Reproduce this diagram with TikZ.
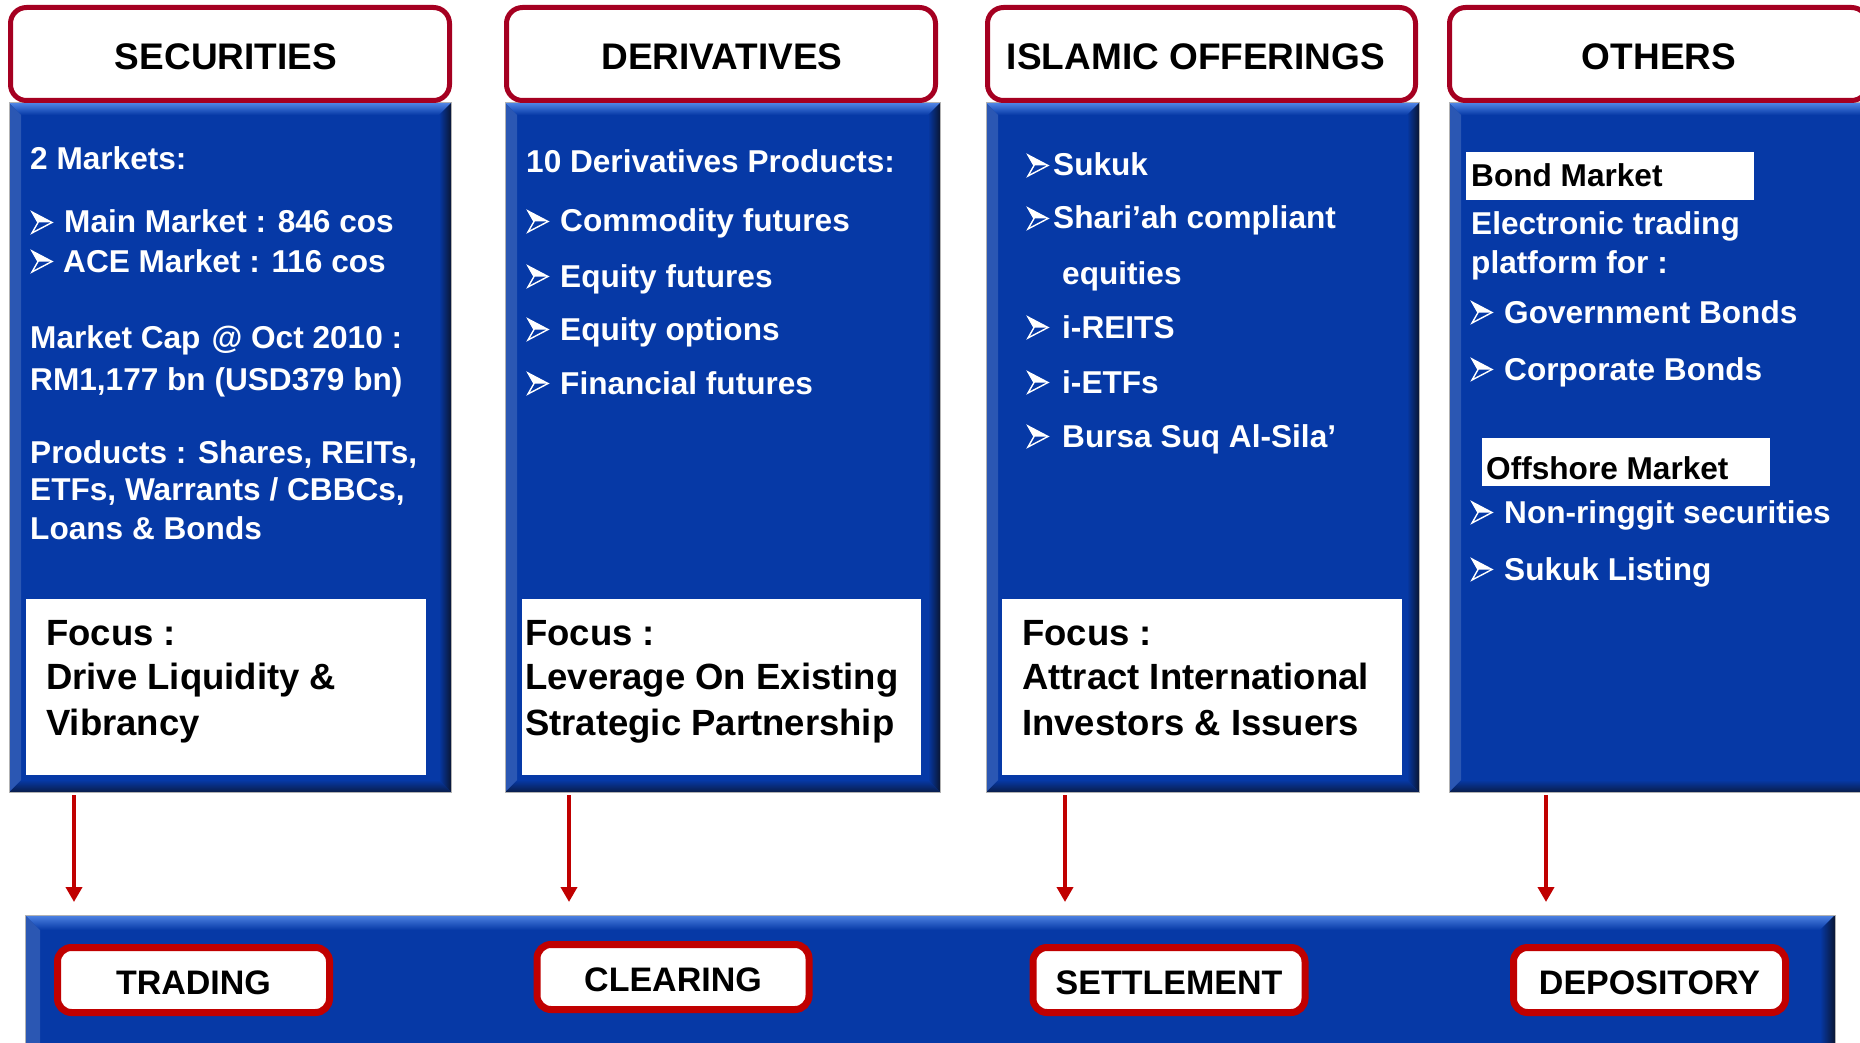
\documentclass[tikz,border=0pt]{standalone}
\usepackage{fontspec}
\setmainfont{Liberation Sans}
\usetikzlibrary{arrows.meta}
\definecolor{pblue}{HTML}{0639A6}
\definecolor{plight}{HTML}{4F84E4}
\definecolor{pdark}{HTML}{0A1634}
\definecolor{hred}{HTML}{A50021}
\definecolor{bred}{HTML}{C00000}
\tikzset{
 body/.style={anchor=base west, inner sep=0pt, text=white, font=\fontsize{31.6}{37}\selectfont\bfseries},
 btext/.style={anchor=base west, inner sep=0pt, text=black, font=\fontsize{31.6}{37}\selectfont\bfseries},
 focustxt/.style={anchor=base west, inner sep=0pt, text=black, font=\fontsize{36.5}{44}\selectfont\bfseries},
 head/.style={draw=hred, line width=5pt, fill=white, rounded corners=16pt, inner sep=0pt, minimum height=93pt},
 headtxt/.style={inner sep=0pt, text=black, font=\fontsize{37}{44}\selectfont\bfseries},
 lowerbox/.style={draw=bred, line width=7pt, fill=white, rounded corners=14pt, inner sep=0pt, minimum width=272pt, minimum height=65pt},
 lowertxt/.style={inner sep=0pt, text=black, font=\fontsize{34}{40}\selectfont\bfseries},
 wbox/.style={fill=white, draw=none, inner sep=0pt, anchor=north west},
 arr/.style={draw=bred, line width=4pt, -{Triangle[length=15pt,width=16pt]}},
 bulletpic/.pic={
   \fill[white] (0,-10.5) -- (20,0) -- (6,0) -- cycle;
   \draw[white, line width=1.4pt, line join=miter] (0,-10.5) -- (20,0) -- (0,10.5) -- (6,0) -- cycle;
 }
}
\newcommand\bevpanel[5]{%
 \fill[pblue] (#1,#2) rectangle (#3,#4);
 \shade[top color=plight, bottom color=pblue] (#1,#2) -- (#3,#2) -- ({#3-#5},{#2+#5}) -- ({#1+#5},{#2+#5}) -- cycle;
 \shade[left color=pblue, right color=pdark] (#3,#2) -- (#3,#4) -- ({#3-#5},{#4-#5}) -- ({#3-#5},{#2+#5}) -- cycle;
 \shade[top color=pblue, bottom color=pdark!80!pblue] (#1,#4) -- (#3,#4) -- ({#3-#5},{#4-#5}) -- ({#1+#5},{#4-#5}) -- cycle;
 \fill[pblue!85!white] (#1,#2) -- ({#1+#5},{#2+#5}) -- ({#1+#5},{#4-#5}) -- (#1,#4) -- cycle;
 \draw[gray!60, line width=1pt] (#1,#2) rectangle (#3,#4);
}
% bullet at (x, baseline)
\newcommand\bul[2]{\pic at (#1,{#2-10.5}) {bulletpic};}
\begin{document}
\begin{tikzpicture}[x=1pt,y=-1pt]
\useasboundingbox (0,0) rectangle (1860,1043);
\clip (0,0) rectangle (1860,1043);
\fill[white] (0,0) rectangle (1860,1043);

% panels
\bevpanel{9}{103}{451}{792}{12}
\bevpanel{505}{103}{940}{792}{12}
\bevpanel{986}{103}{1419}{792}{12}
\bevpanel{1449}{103}{1890}{792}{12}
\bevpanel{25}{915}{1835}{1065}{15}

% headers
\node[head, minimum width=439pt] (hsec) at (230,54) {};
\node[head, minimum width=429pt] (hder) at (721,54) {};
\node[head, minimum width=428pt] (hisl) at (1201.5,54) {};
\node[head, minimum width=418pt] (hoth) at (1658.5,54) {};
\node[headtxt] (hsect) at (226,56.5) {SECURITIES};
\node[headtxt] (hdert) at (722,56.5) {DERIVATIVES};
\node[headtxt] (hislt) at (1196,56.5) {ISLAMIC OFFERINGS};
\node[headtxt] (hotht) at (1659,56.5) {OTHERS};

% securities
\node[body] (s1) at (30,170) {2 Markets:};
\bul{32}{233}
\node[body] (s2) at (64,233) {Main Market : 846 cos};
\bul{32}{272}
\node[body] (s3) at (63,272) {ACE Market : 116 cos};
\node[body] (s4) at (30,348) {Market Cap\hspace{0.35em}@ Oct 2010 :};
\node[body] (s5) at (30,390) {RM1,177 bn (USD379 bn)};
\node[body] (s6) at (30,463) {Products : Shares, REITs,};
\node[body] (s7) at (30,500) {ETFs, Warrants / CBBCs,};
\node[body] (s8) at (30,539) {Loans \& Bonds};
\node[wbox, minimum width=400pt, minimum height=176pt] (sfb) at (26,599) {};
\node[focustxt] (sf1) at (46,645) {Focus :};
\node[focustxt] (sf2) at (46,689) {Drive Liquidity \&};
\node[focustxt] (sf3) at (46,735) {Vibrancy};

% derivatives
\node[body] (d1) at (526,173) {10 Derivatives Products:};
\bul{528}{232}
\node[body] (d2) at (560,232) {Commodity futures};
\bul{528}{287}
\node[body] (d3) at (560,287) {Equity futures};
\bul{528}{340}
\node[body] (d4) at (560,340) {Equity options};
\bul{528}{394}
\node[body] (d5) at (560,394) {Financial futures};
\node[wbox, minimum width=399pt, minimum height=176pt] (dfb) at (522,599) {};
\node[focustxt] (df1) at (525,645) {Focus :};
\node[focustxt] (df2) at (525,689) {Leverage On Existing};
\node[focustxt] (df3) at (525,735) {Strategic Partnership};

% islamic
\bul{1028}{176}
\node[body] (i1) at (1053,176) {Sukuk};
\bul{1028}{229}
\node[body] (i2) at (1053,229) {Shari’ah compliant};
\node[body] (i2c) at (1062,284) {equities};
\bul{1028}{338}
\node[body] (i3) at (1062,338) {i-REITS};
\bul{1028}{393}
\node[body] (i4) at (1062,393) {i-ETFs};
\bul{1028}{447}
\node[body] (i5) at (1062,447) {Bursa Suq Al-Sila’};
\node[wbox, minimum width=400pt, minimum height=176pt] (ifb) at (1002,599) {};
\node[focustxt] (if1) at (1022,645) {Focus :};
\node[focustxt] (if2) at (1022,689) {Attract International};
\node[focustxt] (if3) at (1022,735) {Investors \& Issuers};

% others
\node[wbox, minimum width=288pt, minimum height=48pt] (obb) at (1466,152) {};
\node[btext] (o1) at (1471,187) {Bond Market};
\node[body] (o2) at (1471,234) {Electronic trading};
\node[body] (o3) at (1471,273) {platform for :};
\bul{1472}{323}
\node[body] (o4) at (1504,323) {Government Bonds};
\bul{1472}{380}
\node[body] (o5) at (1504,380) {Corporate Bonds};
\node[wbox, minimum width=288pt, minimum height=48pt] (oob) at (1482,438) {};
\node[btext] (o6) at (1486,479) {Offshore Market};
\bul{1472}{523}
\node[body] (o7) at (1504,523) {Non-ringgit securities};
\bul{1472}{580}
\node[body] (o8) at (1504,580) {Sukuk Listing};

% bottom boxes
\node[lowerbox] (trading) at (193.5,980) {};
\node[lowerbox] (clearing) at (673,977) {};
\node[lowerbox] (settlement) at (1169,980) {};
\node[lowerbox] (depository) at (1649.5,980) {};
\node[lowertxt] (tradingt) at (193.5,983) {TRADING};
\node[lowertxt] (clearingt) at (673,980) {CLEARING};
\node[lowertxt] (settlementt) at (1169,983) {SETTLEMENT};
\node[lowertxt] (depositoryt) at (1649.5,983) {DEPOSITORY};

% arrows
\coordinate (a1s) at (74,795); \coordinate (a1e) at (74,902);
\coordinate (a2s) at (569,795); \coordinate (a2e) at (569,902);
\coordinate (a3s) at (1065,795); \coordinate (a3e) at (1065,902);
\coordinate (a4s) at (1546,795); \coordinate (a4e) at (1546,902);
\draw[arr] (a1s) -- (a1e);
\draw[arr] (a2s) -- (a2e);
\draw[arr] (a3s) -- (a3e);
\draw[arr] (a4s) -- (a4e);
\end{tikzpicture}
\end{document}
